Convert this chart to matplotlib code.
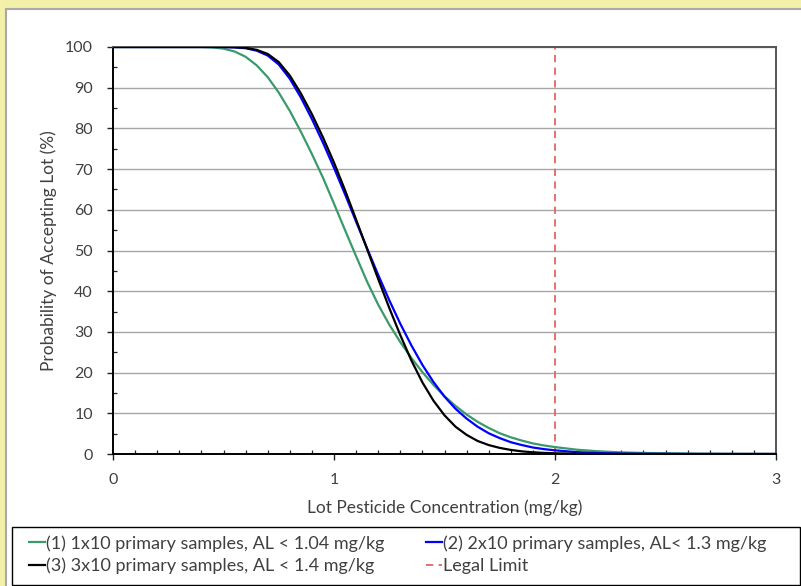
"""Operating characteristic curves for pesticide lot acceptance sampling plans."""

import matplotlib

matplotlib.use("Agg")
import matplotlib.pyplot as plt
from matplotlib.patches import Rectangle
from matplotlib.ticker import MultipleLocator

plt.rcParams["font.family"] = ["Lato", "DejaVu Sans"]

# concentration grid (mg/kg)
conc = [0.0, 0.1, 0.2, 0.3, 0.4, 0.45, 0.50, 0.55, 0.60, 0.65, 0.70, 0.75, 0.80,
        0.85, 0.90, 0.95, 1.00, 1.05, 1.10, 1.15, 1.20, 1.25, 1.30, 1.35, 1.40,
        1.45, 1.50, 1.55, 1.60, 1.65, 1.70, 1.75, 1.80, 1.85, 1.90, 1.95, 2.00,
        2.10, 2.20, 2.30, 2.40, 2.60, 2.80, 3.00]

# probability of accepting the lot (%)
plan_1x10 = [100, 100, 100, 100, 100, 99.9, 99.6, 98.9, 97.6, 95.5, 92.6, 88.8, 84.3,
             79.2, 73.7, 67.9, 61.5, 55.0, 48.6, 42.3, 36.7, 31.8, 27.5, 23.6, 20.1,
             17.0, 14.2, 11.8, 9.7, 7.9, 6.4, 5.1, 4.1, 3.3, 2.6, 2.1, 1.7,
             1.05, 0.65, 0.4, 0.25, 0.09, 0.03, 0.01]
plan_2x10 = [100, 100, 100, 100, 100, 100, 100, 99.9, 99.7, 99.1, 97.9, 95.7, 92.2,
             87.6, 82.3, 76.5, 70.3, 63.8, 57.1, 50.5, 44.0, 37.8, 32.0, 26.7, 21.9,
             17.7, 14.1, 11.1, 8.7, 6.7, 5.1, 3.9, 2.9, 2.2, 1.6, 1.2, 0.9,
             0.45, 0.22, 0.1, 0.05, 0.01, 0.0, 0.0]
plan_3x10 = [100, 100, 100, 100, 100, 100, 100, 99.95, 99.8, 99.3, 98.3, 96.3, 93.0,
             88.6, 83.5, 77.8, 71.6, 64.8, 57.6, 50.3, 43.0, 35.9, 29.2, 23.0, 17.6,
             13.1, 9.5, 6.7, 4.7, 3.2, 2.2, 1.5, 1.0, 0.65, 0.42, 0.27, 0.17,
             0.07, 0.03, 0.01, 0.0, 0.0, 0.0, 0.0]

legal_limit = 2.0

labels = [
    "(1) 1x10 primary samples, AL < 1.04 mg/kg",
    "(2) 2x10 primary samples, AL< 1.3 mg/kg",
    "(3) 3x10 primary samples, AL < 1.4 mg/kg",
    "Legal Limit",
]

TEXT = "#404040"
W, H = 801, 586
fig = plt.figure(figsize=(W / 100, H / 100), dpi=100, facecolor="#f2f0a9")

# white chart panel behind everything
fig.patches.append(Rectangle((6 / W, -0.01), 800 / W, 1 - 9 / H + 0.01, transform=fig.transFigure,
                             facecolor="white", edgecolor="#a8a8a8", linewidth=1.5, zorder=-2))

ax = fig.add_axes([113 / W, 1 - 454 / H, 663 / W, 407 / H])
ax.set_facecolor("white")

l1, = ax.plot(conc, plan_1x10, color="#3a9a6c", lw=1.6, zorder=3)
l2, = ax.plot(conc, plan_2x10, color="#0000ff", lw=1.6, zorder=4)
l3, = ax.plot(conc, plan_3x10, color="black", lw=1.6, zorder=5)
l4 = ax.axvline(legal_limit, color="#e06666", lw=1.3, dashes=(4, 3), zorder=2)

ax.set_xlim(0, 3)
ax.set_ylim(0, 100)
ax.xaxis.set_major_locator(MultipleLocator(1))
ax.xaxis.set_minor_locator(MultipleLocator(0.1))
ax.yaxis.set_major_locator(MultipleLocator(10))
ax.yaxis.set_minor_locator(MultipleLocator(5))
ax.grid(True, axis="y", which="major", color="#a6a6a6", lw=1.0, zorder=1)
ax.set_axisbelow(True)

ax.tick_params(which="major", direction="out", length=4.5, width=1.0, colors="#222222",
               labelcolor=TEXT, labelsize=11.5, pad=10)
ax.tick_params(which="minor", direction="in", length=3, width=0.9, colors="#222222")
ax.tick_params(axis="x", which="major", pad=9)

for side in ("left", "bottom"):
    ax.spines[side].set_color("black")
    ax.spines[side].set_linewidth(1.4)
for side in ("top", "right"):
    ax.spines[side].set_color("#555555")
    ax.spines[side].set_linewidth(1.4)

ax.set_xlabel("Lot Pesticide Concentration (mg/kg)", fontsize=12.5, color=TEXT, labelpad=9)
ax.set_ylabel("Probability of Accepting Lot (%)", fontsize=12.5, color=TEXT, labelpad=6)

# legend box along the bottom, one legend per column
fig.patches.append(Rectangle((12 / W, 1 - 585 / H), 788 / W, 58 / H, transform=fig.transFigure,
                             facecolor="white", edgecolor="black", linewidth=1.0, zorder=-1))
legend_kw = dict(loc="upper left", frameon=False, fontsize=13, handlelength=0.9,
                 handletextpad=0.05, labelspacing=0.35, borderaxespad=0, borderpad=0,
                 labelcolor=TEXT)
fig.legend([l1, l3], [labels[0], labels[2]], bbox_to_anchor=(29 / W, 1 - 535 / H), **legend_kw)
fig.legend([l2, l4], [labels[1], labels[3]], bbox_to_anchor=(426 / W, 1 - 535 / H), **legend_kw)

fig.savefig("out.png", dpi=100, facecolor=fig.get_facecolor())
